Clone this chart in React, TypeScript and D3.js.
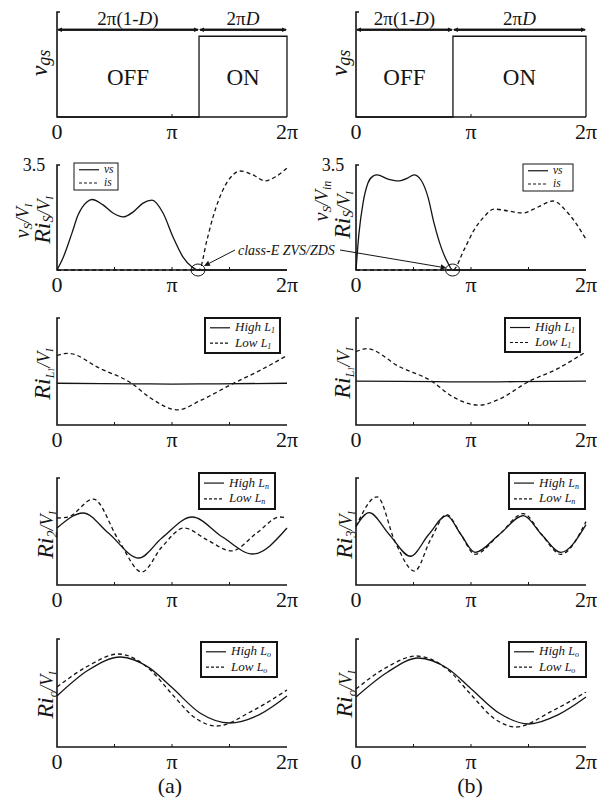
import React from "react";
import * as d3 from "d3";

type Pt = [number, number]; // [phase in units of π, value]

const SERIF = "'Liberation Serif', 'Times New Roman', serif";
const INK = "#141414";

// shared phase axis
const phaseTicks = [0, 1, 2];
const phaseTickLabels = ["0", "π", "2π"];
const minorTicksTop = [1];
const minorTicks = [0.5, 1, 1.5];

// gate drive (0 = OFF, 1 = ON)
const vgsA: Pt[] = [[0, 0], [1.235, 0], [1.235, 1], [2, 1], [2, 0]];
const vgsB: Pt[] = [[0, 0], [0.843, 0], [0.843, 1], [2, 1], [2, 0]];

// normalised switch voltage / current
const vsA: Pt[] = [
  [0, 0], [0.052, 0.4], [0.13, 1.23], [0.183, 1.83], [0.26, 2.27], [0.304, 2.35], [0.4, 2.17],
  [0.487, 1.9], [0.574, 1.77], [0.661, 1.93], [0.748, 2.23], [0.826, 2.33], [0.922, 1.9],
  [1.009, 1.1], [1.096, 0.43], [1.174, 0.1], [1.226, 0], [2, 0],
];
const isA: Pt[] = [
  [0, 0], [1.235, 0], [1.304, 1.0], [1.357, 1.77], [1.443, 2.67], [1.53, 3.17], [1.591, 3.3],
  [1.704, 3.17], [1.809, 2.97], [1.896, 3.1], [2, 3.4],
];
const vsB: Pt[] = [
  [0, 0], [0.026, 1.23], [0.061, 2.23], [0.104, 2.9], [0.148, 3.13], [0.183, 3.17], [0.278, 3.03],
  [0.365, 2.97], [0.452, 3.07], [0.504, 3.17], [0.565, 3.0], [0.626, 2.43], [0.678, 1.57],
  [0.739, 0.77], [0.8, 0.23], [0.84, 0], [2, 0],
];
const isB: Pt[] = [
  [0, 0], [0.843, 0], [0.939, 0.67], [1.026, 1.33], [1.113, 1.77], [1.2, 2.03], [1.322, 1.97],
  [1.452, 1.9], [1.583, 2.1], [1.713, 2.3], [1.843, 1.9], [2, 1.03],
];

// input inductor current
const iL1HighA: Pt[] = [[0, -0.22], [0.7, -0.23], [1.0, -0.235], [1.4, -0.23], [2, -0.22]];
const iL1LowA: Pt[] = [
  [0, 0.3], [0.096, 0.34], [0.374, 0.057], [0.652, -0.226], [0.809, -0.49], [1.052, -0.717],
  [1.243, -0.547], [1.53, -0.226], [1.765, 0.02], [2, 0.3],
];
const iL1HighB: Pt[] = [[0, -0.18], [0.7, -0.19], [1.0, -0.195], [1.4, -0.19], [2, -0.18]];
const iL1LowB: Pt[] = [
  [0, 0.37], [0.096, 0.426], [0.374, 0.093], [0.661, -0.185], [0.835, -0.463], [1.07, -0.63],
  [1.243, -0.52], [1.504, -0.185], [1.739, 0.037], [2, 0.37],
];

// harmonic-trap branch currents
const i2HighA: Pt[] = [
  [0, 0.065], [0.228, 0.346], [0.447, -0.028], [0.711, -0.495], [0.912, -0.121], [1.175, 0.271],
  [1.439, -0.103], [1.702, -0.421], [2, 0.065],
];
const i2LowA: Pt[] = [
  [0, 0.252], [0.096, 0.271], [0.316, 0.607], [0.535, -0.159], [0.737, -0.757], [0.912, -0.29],
  [1.105, 0.065], [1.307, -0.159], [1.518, -0.364], [1.737, -0.028], [1.939, 0.271], [2, 0.252],
];
const i3HighB: Pt[] = [
  [0, 0.093], [0.114, 0.352], [0.289, -0.056], [0.474, -0.463], [0.632, -0.056], [0.789, 0.296],
  [0.912, -0.056], [1.035, -0.389], [1.246, -0.056], [1.456, 0.296], [1.614, -0.056],
  [1.781, -0.389], [2, 0.13],
];
const i3LowB: Pt[] = [
  [0, 0.093], [0.184, 0.648], [0.342, -0.204], [0.509, -0.741], [0.649, -0.148], [0.789, 0.315],
  [0.912, -0.056], [1.035, -0.426], [1.246, -0.056], [1.456, 0.333], [1.614, -0.056],
  [1.781, -0.426], [2, 0.185],
];

// output current
const ioHighA: Pt[] = [
  [0, -0.056], [0.27, 0.42], [0.553, 0.667], [0.8, 0.47], [1.0, 0.1], [1.25, -0.38],
  [1.5, -0.556], [1.76, -0.4], [2, -0.056],
];
const ioLowA: Pt[] = [
  [0, 0.111], [0.27, 0.5], [0.535, 0.722], [0.8, 0.45], [1.0, -0.02], [1.2, -0.46],
  [1.386, -0.611], [1.7, -0.33], [2, 0.056],
];
const ioHighB: Pt[] = [
  [0, -0.074], [0.27, 0.38], [0.541, 0.648], [0.8, 0.45], [1.0, 0.08], [1.25, -0.38],
  [1.502, -0.574], [1.76, -0.4], [2, -0.074],
];
const ioLowB: Pt[] = [
  [0, 0.074], [0.27, 0.48], [0.524, 0.685], [0.8, 0.43], [1.0, -0.03], [1.2, -0.47],
  [1.389, -0.63], [1.7, -0.34], [2, 0.019],
];

interface Box { x0: number; x1: number; y0: number; y1: number }
interface Series { data: Pt[]; dashed?: boolean; step?: boolean }
type Part = [string, number, number]; // text, font size, baseline drop
interface LegendSpec {
  x: number; y: number; w: number; h: number; thick: boolean; size: number;
  rowAt: [number, number]; items: { dashed?: boolean; parts: Part[] }[];
}
type Scale = d3.ScaleLinear<number, number>;

const colA = { x0: 57, x1: 287 };
const colB = { x0: 356, x1: 586 };
const rowsY = [
  { y0: 12, y1: 117 },
  { y0: 165, y1: 270 },
  { y0: 318, y1: 425 },
  { y0: 478, y1: 585 },
  { y0: 639, y1: 747 },
];
const boxOf = (col: { x0: number; x1: number }, r: number): Box => ({ ...col, ...rowsY[r] });

function Runs({ parts }: { parts: Part[] }) {
  let prev = 0;
  return (
    <>
      {parts.map(([t, size, drop], i) => {
        const dy = drop - prev;
        prev = drop;
        return (
          <tspan key={i} fontSize={size} dy={dy || undefined}>{t}</tspan>
        );
      })}
    </>
  );
}

function YLabel({ x, y, parts }: { x: number; y: number; parts: Part[] }) {
  return (
    <text transform={`translate(${x},${y}) rotate(-90)`} textAnchor="middle" fontStyle="italic" fill={INK} fontFamily={SERIF}>
      <Runs parts={parts} />
    </text>
  );
}

function Legend({ spec }: { spec: LegendSpec }) {
  const { x, y, w, h, thick, size, items, rowAt } = spec;
  const rows = [y + h * rowAt[0], y + h * rowAt[1]];
  return (
    <g>
      <rect x={x} y={y} width={w} height={h} fill="#fff" stroke={INK} strokeWidth={thick ? 2 : 1} />
      {items.map((it, i) => (
        <g key={i}>
          <line x1={x + 5} x2={x + 25} y1={rows[i]} y2={rows[i]} stroke={INK} strokeWidth={1.2} strokeDasharray={it.dashed ? "3,2" : undefined} />
          <text x={x + 30} y={rows[i] + 3.5} fontStyle="italic" fill={INK} fontFamily={SERIF} fontSize={size}>
            <Runs parts={it.parts} />
          </text>
        </g>
      ))}
    </g>
  );
}

function Panel(props: {
  box: Box;
  yDomain: [number, number];
  series: Series[];
  minor: number[];
  legend?: LegendSpec;
  ylabel: React.ReactNode;
  extra?: (x: Scale, y: Scale) => React.ReactNode;
}) {
  const { box, yDomain, series, minor, legend, ylabel, extra } = props;
  const x = d3.scaleLinear().domain([0, 2]).range([box.x0, box.x1]);
  const y = d3.scaleLinear().domain(yDomain).range([box.y1, box.y0]);
  const smooth = d3.line<Pt>().x((d) => x(d[0])).y((d) => y(d[1])).curve(d3.curveMonotoneX);
  const straight = d3.line<Pt>().x((d) => x(d[0])).y((d) => y(d[1]));
  return (
    <g>
      {series.map((s, i) => (
        <path
          key={i}
          d={(s.step ? straight : smooth)(s.data) ?? ""}
          fill="none"
          stroke={INK}
          strokeWidth={1.3}
          strokeDasharray={s.dashed ? "4,3" : undefined}
        />
      ))}
      <path d={`M${box.x0 + 3},${box.y0}H${box.x0}V${box.y1}H${box.x1}`} fill="none" stroke={INK} strokeWidth={1.6} />
      {minor.map((t) => (
        <line key={t} x1={x(t)} x2={x(t)} y1={box.y1} y2={box.y1 - 3} stroke={INK} strokeWidth={1} />
      ))}
      {phaseTicks.map((t, i) => (
        <text key={t} x={x(t)} y={box.y1 + 22} textAnchor="middle" fontFamily={SERIF} fontSize={22} fill={INK}>
          {phaseTickLabels[i]}
        </text>
      ))}
      {legend && <Legend spec={legend} />}
      {ylabel}
      {extra?.(x, y)}
    </g>
  );
}

function Arrow({ x1, y1, x2, y2, w = 1.4, head = 5 }: { x1: number; y1: number; x2: number; y2: number; w?: number; head?: number }) {
  const a = Math.atan2(y2 - y1, x2 - x1);
  const hw = head * 0.45;
  const bx = x2 - head * Math.cos(a);
  const by = y2 - head * Math.sin(a);
  const p = `M${x2},${y2}L${bx + hw * Math.sin(a)},${by - hw * Math.cos(a)}L${bx - hw * Math.sin(a)},${by + hw * Math.cos(a)}Z`;
  return (
    <g>
      <line x1={x1} y1={y1} x2={bx} y2={by} stroke={INK} strokeWidth={w} />
      <path d={p} fill={INK} />
    </g>
  );
}

// dimension arrows and ON/OFF captions of the gate-drive panel
function GateNotes(onAt: number) {
  return (x: Scale, y: Scale) => {
    const ay = y(1.08);
    const ty = ay - 5;
    const mid = y(0.5) + 8;
    return (
      <g fontFamily={SERIF} fill={INK}>
        <Arrow x1={x(onAt) - 1} y1={ay} x2={x(0)} y2={ay} w={2} head={5} />
        <Arrow x1={x(0) + 1} y1={ay} x2={x(onAt)} y2={ay} w={2} head={5} />
        <Arrow x1={x(2) - 1} y1={ay} x2={x(onAt)} y2={ay} w={2} head={5} />
        <Arrow x1={x(onAt) + 1} y1={ay} x2={x(2)} y2={ay} w={2} head={5} />
        <text x={(x(0) + x(onAt)) / 2} y={ty} textAnchor="middle" fontSize={19}>
          2π(1-<tspan fontStyle="italic">D</tspan>)
        </text>
        <text x={(x(onAt) + x(2)) / 2} y={ty} textAnchor="middle" fontSize={19}>
          2π<tspan fontStyle="italic">D</tspan>
        </text>
        <text x={(x(0) + x(onAt)) / 2} y={mid} textAnchor="middle" fontSize={23}>OFF</text>
        <text x={(x(onAt) + x(2)) / 2} y={mid} textAnchor="middle" fontSize={23}>ON</text>
      </g>
    );
  };
}

const vgsLabel: Part[] = [["v", 24, 0], ["gs", 18, 3]];
const riOver = (sub: string, subSize: number): Part[] => [
  ["Ri", 24, 0], [sub, subSize, 4], ["/V", 18, 0], ["I", 10, 3],
];

const legendParts = (word: string, sub: string): Part[] => [[word + " ", 13, 0], ["L", 12, 0], [sub, 8, 2]];

const zeroAfterPeak = (s: Pt[]) => s.find((p, i) => i > 2 && p[1] === 0)![0];

export default function App() {
  const bA1 = boxOf(colA, 1);
  const bB1 = boxOf(colB, 1);
  const sx = (b: Box) => d3.scaleLinear().domain([0, 2]).range([b.x0, b.x1]);
  const sy = (b: Box) => d3.scaleLinear().domain([0, 3.5]).range([b.y1, b.y0]);
  const zA: [number, number] = [sx(bA1)(zeroAfterPeak(vsA)), sy(bA1)(0)];
  const zB: [number, number] = [sx(bB1)(zeroAfterPeak(vsB)), sy(bB1)(0)];

  const legendAt = (x: number, y: number, w: number, h: number, sub: string): LegendSpec => ({
    x, y, w, h, thick: true, size: 13, rowAt: [0.28, 0.72],
    items: [{ parts: legendParts("High", sub) }, { dashed: true, parts: legendParts("Low", sub) }],
  });
  const vsisLegend = (x: number, y: number, w: number): LegendSpec => ({
    x, y, w, h: 27, thick: false, size: 11.5, rowAt: [0.25, 0.74],
    items: [{ parts: [["vs", 11.5, 0]] }, { dashed: true, parts: [["is", 11.5, 0]] }],
  });

  return (
    <svg width={613} height={802} viewBox="0 0 613 802" style={{ position: "absolute", left: 0, top: 0 }} fontFamily={SERIF}>
      <rect width={613} height={802} fill="#fff" />

      {/* gate drive */}
      <Panel box={boxOf(colA, 0)} yDomain={[0, 1.3]} series={[{ data: vgsA, step: true }]} minor={minorTicksTop}
        ylabel={<YLabel x={47} y={63} parts={vgsLabel} />} extra={GateNotes(vgsA[1][0])} />
      <Panel box={boxOf(colB, 0)} yDomain={[0, 1.3]} series={[{ data: vgsB, step: true }]} minor={minorTicksTop}
        ylabel={<YLabel x={347} y={63} parts={vgsLabel} />} extra={GateNotes(vgsB[1][0])} />

      {/* switch voltage and current */}
      <Panel box={bA1} yDomain={[0, 3.5]} series={[{ data: isA, dashed: true }, { data: vsA }]} minor={minorTicks}
        legend={vsisLegend(74, 163, 44)}
        ylabel={<g>
          <YLabel x={29} y={221} parts={[["v", 20, 0], ["S", 13, 3], ["/V", 18, 0], ["I", 10, 3]]} />
          <YLabel x={50} y={220} parts={[["Ri", 24, 0], ["S", 14, 3], ["/V", 18, 0], ["I", 10, 3]]} />
          <text x={34} y={171} textAnchor="middle" fontSize={18} fill={INK} fontFamily={SERIF}>3.5</text>
        </g>} />
      <Panel box={bB1} yDomain={[0, 3.5]} series={[{ data: isB, dashed: true }, { data: vsB }]} minor={minorTicks}
        legend={vsisLegend(523, 164, 50)}
        ylabel={<g>
          <YLabel x={328} y={201} parts={[["v", 20, 0], ["S", 13, 3], ["/V", 18, 0], ["in", 12, 3]]} />
          <YLabel x={350} y={215} parts={[["Ri", 24, 0], ["S", 14, 3], ["/V", 18, 0], ["I", 10, 3]]} />
          <text x={333} y={171} textAnchor="middle" fontSize={18} fill={INK} fontFamily={SERIF}>3.5</text>
        </g>} />

      {/* ZVS / ZDS markers */}
      <g>
        <ellipse cx={zA[0]} cy={zA[1]} rx={7} ry={6} fill="none" stroke={INK} strokeWidth={1} />
        <ellipse cx={zB[0]} cy={zB[1]} rx={7} ry={6} fill="none" stroke={INK} strokeWidth={1} />
        <Arrow x1={235} y1={250} x2={zA[0] + 6} y2={zA[1] - 4} w={1} head={6} />
        <Arrow x1={340} y1={250} x2={zB[0] - 6} y2={zB[1] - 2} w={1} head={6} />
        <text x={238} y={255} fontStyle="italic" fontSize={14} fill={INK} fontFamily={SERIF}>class-E ZVS/ZDS</text>
      </g>

      {/* input inductor current */}
      <Panel box={boxOf(colA, 2)} yDomain={[-1, 1]} series={[{ data: iL1HighA }, { data: iL1LowA, dashed: true }]} minor={minorTicks}
        legend={legendAt(205, 318, 75, 35, "1")}
        ylabel={<YLabel x={50} y={374} parts={[["Ri", 24, 0], ["L", 12, 4], ["1", 8, 4], ["/V", 18, 0], ["I", 10, 3]]} />} />
      <Panel box={boxOf(colB, 2)} yDomain={[-1, 1]} series={[{ data: iL1HighB }, { data: iL1LowB, dashed: true }]} minor={minorTicks}
        legend={legendAt(505, 318, 75, 34, "1")}
        ylabel={<YLabel x={350} y={373} parts={[["Ri", 24, 0], ["L", 12, 4], ["1", 8, 4], ["/V", 18, 0], ["I", 10, 3]]} />} />

      {/* harmonic branch currents */}
      <Panel box={boxOf(colA, 3)} yDomain={[-1, 1]} series={[{ data: i2HighA }, { data: i2LowA, dashed: true }]} minor={minorTicks}
        legend={legendAt(199, 473, 76, 36, "n")}
        ylabel={<YLabel x={53} y={535} parts={riOver("2", 14)} />} />
      <Panel box={boxOf(colB, 3)} yDomain={[-1, 1]} series={[{ data: i3HighB }, { data: i3LowB, dashed: true }]} minor={minorTicks}
        legend={legendAt(509, 473, 76, 36, "n")}
        ylabel={<YLabel x={352} y={535} parts={riOver("3", 14)} />} />

      {/* output current */}
      <Panel box={boxOf(colA, 4)} yDomain={[-1, 1]} series={[{ data: ioHighA }, { data: ioLowA, dashed: true }]} minor={minorTicks}
        legend={legendAt(201, 642, 76, 35, "o")}
        ylabel={<YLabel x={53} y={695} parts={riOver("o", 13)} />} />
      <Panel box={boxOf(colB, 4)} yDomain={[-1, 1]} series={[{ data: ioHighB }, { data: ioLowB, dashed: true }]} minor={minorTicks}
        legend={legendAt(509, 642, 77, 35, "o")}
        ylabel={<YLabel x={352} y={694} parts={riOver("o", 13)} />} />

      <text x={170} y={793} textAnchor="middle" fontSize={22} fill={INK} fontFamily={SERIF}>(a)</text>
      <text x={470} y={793} textAnchor="middle" fontSize={22} fill={INK} fontFamily={SERIF}>(b)</text>
    </svg>
  );
}
